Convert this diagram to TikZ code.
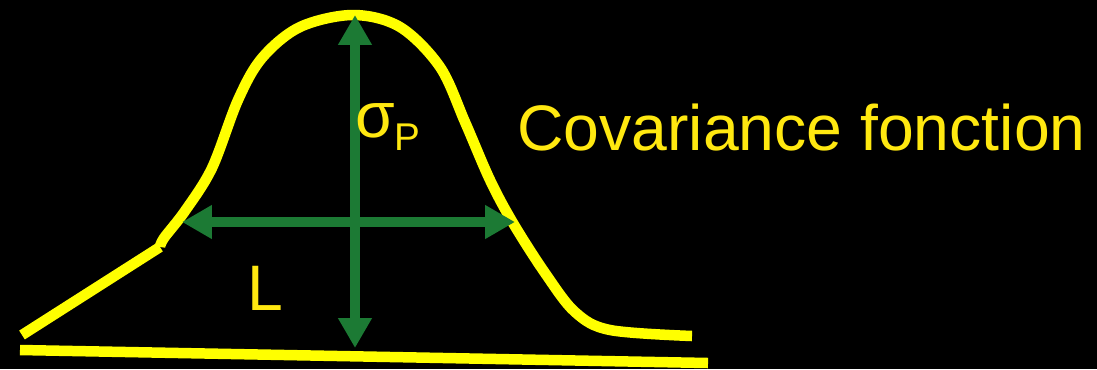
\documentclass[tikz,border=0pt]{standalone}
\usepackage{fontspec}
\setmainfont{Liberation Sans}
\usetikzlibrary{arrows.meta}
\definecolor{curveyellow}{RGB}{255,255,0}
\definecolor{textyellow}{RGB}{255,232,16}
\definecolor{arrowgreen}{RGB}{28,122,52}
\tikzset{
  yline/.style={draw=curveyellow, line width=10.5*0.02cm, line cap=butt, line join=round},
  garrow/.style={draw=arrowgreen, line width=10*0.02cm,
    {Triangle[length=0.6cm,width=0.64cm]}-{Triangle[length=0.6cm,width=0.64cm]}},
  lbl/.style={text=textyellow, inner sep=0pt, anchor=base west, font=\fontsize{36.6}{40}\selectfont},
  sublbl/.style={text=textyellow, inner sep=0pt, anchor=base west, font=\fontsize{22}{26}\selectfont}
}
\begin{document}
\begin{tikzpicture}[x=0.02cm, y=-0.02cm]
\fill[black] (0,0) rectangle (1097,369);
\useasboundingbox (0,0) rectangle (1097,369);
% baseline
\draw[yline] (20,350) -- (708,363);
% covariance curve
\draw[yline] (22,335) -- (160,247);
\draw[yline] plot[smooth, tension=0.55] coordinates {(160,247) (164,238) (185,211) (212,168) (238,100) (262,58) (300,27) (353,15) (400,27) (440,67) (465,122) (490,180) (513,223) (545,273) (575,312) (610,330) (692,336)};
% arrows
\coordinate (vt) at (355,15);
\coordinate (vb) at (355,348);
\coordinate (hl) at (182,222);
\coordinate (hr) at (515,222);
\draw[garrow] (vb) -- (vt);
\draw[garrow] (hl) -- (hr);
% labels
\node[lbl] (title) at (517,150) {Covariance fonction};
\node[lbl] (lab) at (247,310) {L};
\node[lbl] (sig) at (355,137) {σ};
\node[sublbl] (sub) at (394,150) {P};
\end{tikzpicture}
\end{document}
